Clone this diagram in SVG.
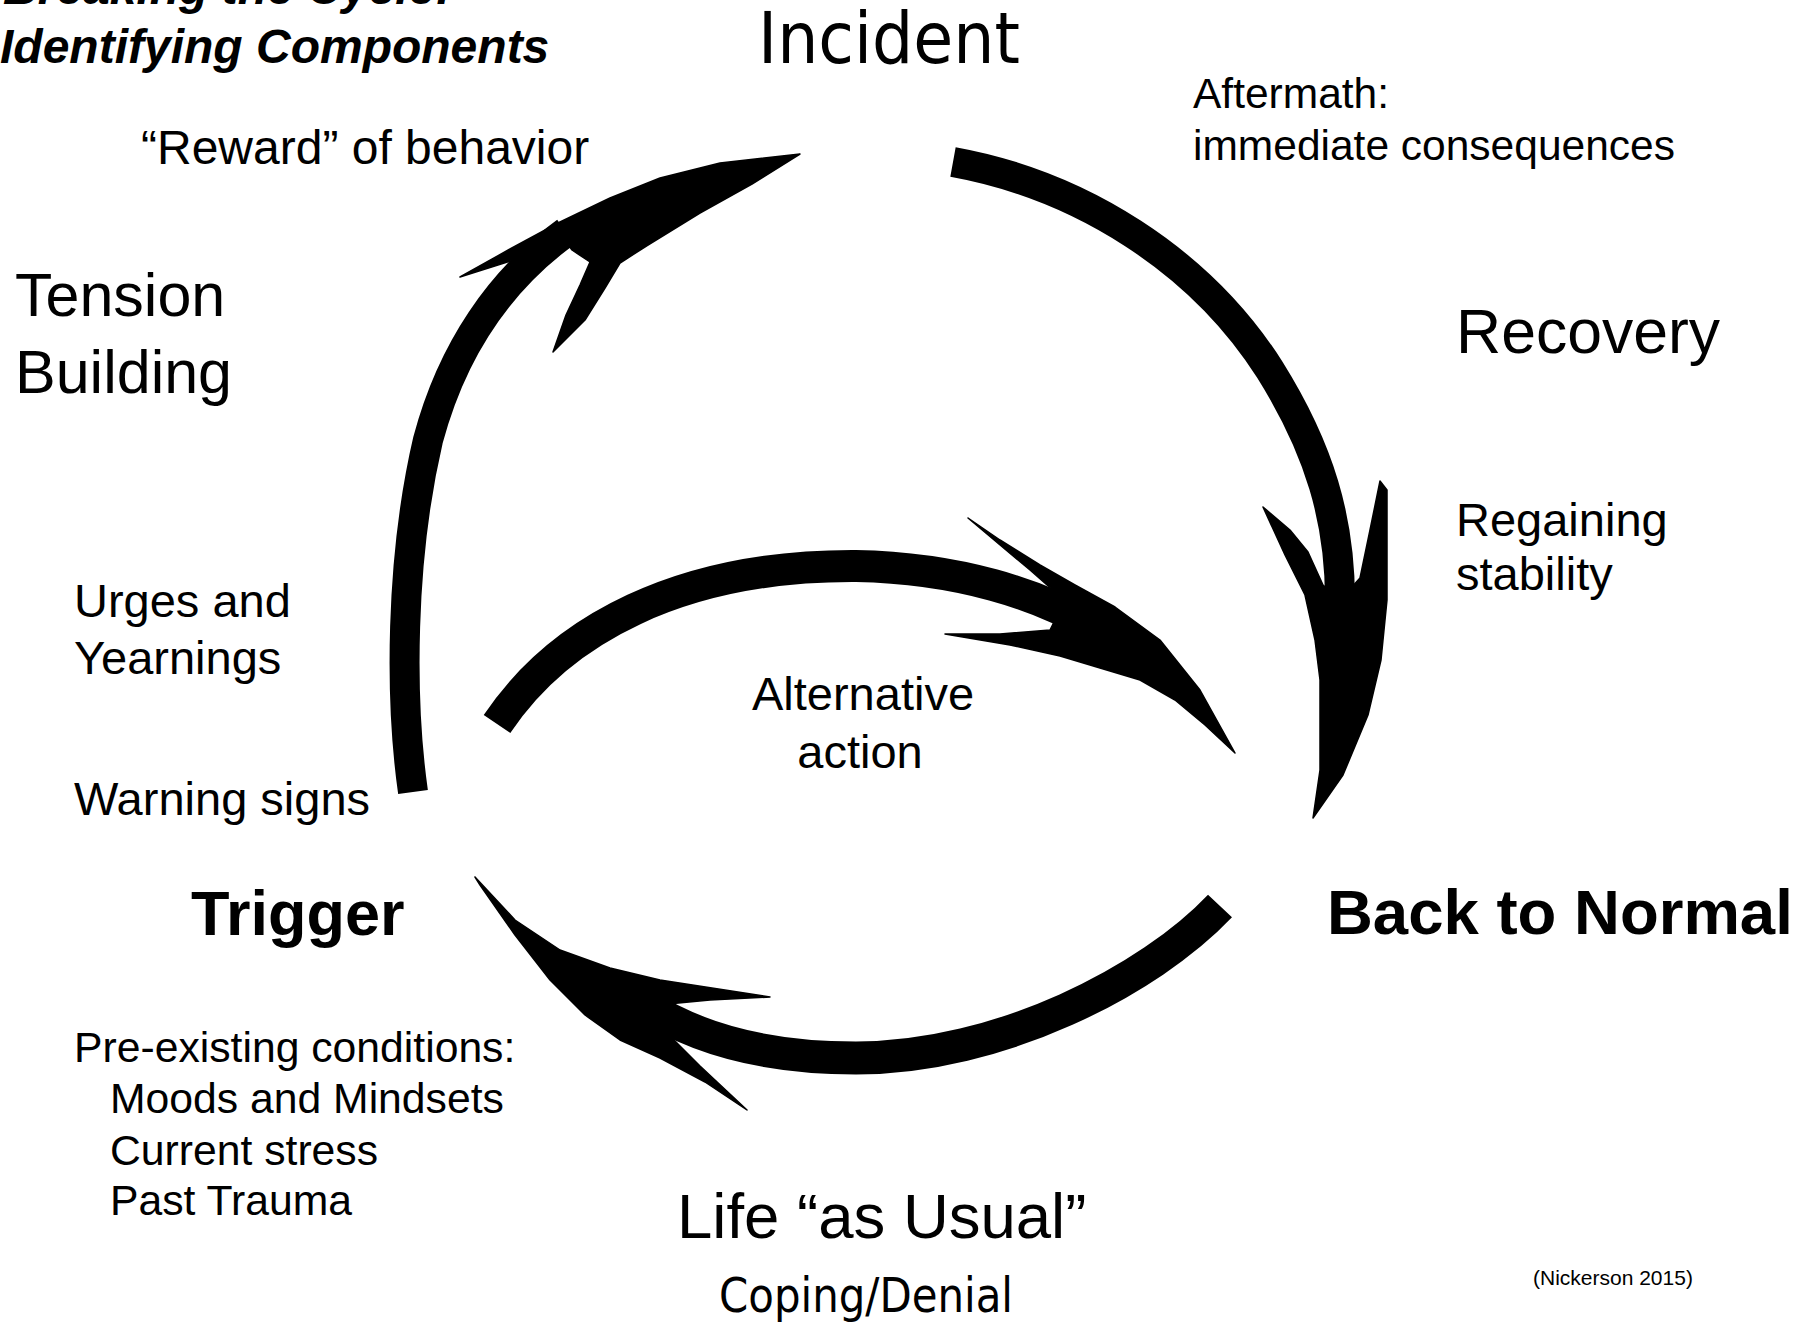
<svg xmlns="http://www.w3.org/2000/svg" width="1813" height="1326" viewBox="0 0 1813 1326">
<style>
.t{font-family:"Liberation Sans",Arial,sans-serif;fill:#000}
.b{font-weight:bold}
.bi{font-weight:bold;font-style:italic}
.th{font-family:"DejaVu Sans","Liberation Sans",sans-serif;fill:#000}
.shaft{fill:none;stroke:#000;stroke-linecap:butt;stroke-linejoin:round}
.head{fill:#000;stroke:#000;stroke-width:1.5;stroke-linejoin:round}
</style>
<rect width="1813" height="1326" fill="#fff"/>

<g id="title">
<text class="t bi" x="3" y="4" font-size="48">Breaking the Cycle:</text>
<text class="t bi" x="0" y="63" font-size="48">Identifying Components</text>
</g>

<g id="connectors">
<g id="arrow-tension-incident">
<path class="shaft" stroke-width="30" d="M413,792 C400,700 400,560 428,440 C452,350 500,280 566,232"/>
<polygon class="head" points="460,277 510,249 560,222 610,198 660,178 720,163 800,154 752,184 700,213 648,245 620,263 605,288 585,320 553,352 566,315 580,285 590,262 572,250 565,240 520,258"/>
</g>
<g id="arrow-incident-normal">
<path class="shaft" stroke-width="30" d="M953,162 C1080,185 1200,260 1270,370 C1320,450 1340,520 1340,600"/>
<polygon class="head" points="1263,507 1290,530 1308,552 1323,585 1340,600 1360,578 1370,530 1380,481 1387,490 1387,600 1381,660 1368,715 1343,775 1313,818 1320,770 1320,680 1315,640 1305,595 1285,555"/>
</g>
<g id="arrow-alternative">
<path class="shaft" stroke-width="32" d="M497,724 C560,630 680,565 856,566 C960,568 1040,595 1090,625"/>
<polygon class="head" points="968,518 1000,540 1040,565 1075,585 1115,607 1160,640 1200,690 1235,753 1205,725 1175,700 1140,680 1100,668 1060,656 1010,645 945,634 1000,634 1050,630 1060,610 1055,592 1030,570"/>
</g>
<g id="arrow-normal-trigger">
<path class="shaft" stroke-width="33" d="M1220,906 C1150,980 1000,1058 856,1058 C760,1058 690,1036 640,1002"/>
<polygon class="head" points="475,877 515,920 560,950 610,968 660,980 770,997 710,1000 668,1004 650,1018 672,1038 700,1066 747,1110 705,1082 660,1058 620,1040 585,1015 550,980 515,935 480,885"/>
</g>
</g>

<g id="node-incident">
<text class="th" x="758" y="63" font-size="71" textLength="262" lengthAdjust="spacingAndGlyphs">Incident</text>
</g>
<g id="node-reward">
<text class="t" x="141" y="164" font-size="48">“Reward” of behavior</text>
</g>
<g id="node-aftermath">
<text class="t" x="1193" y="108" font-size="42.5">Aftermath:</text>
<text class="t" x="1193" y="160" font-size="42.5">immediate consequences</text>
</g>
<g id="node-tension">
<text class="t" x="15" y="316" font-size="61">Tension</text>
<text class="t" x="15" y="393" font-size="61">Building</text>
</g>
<g id="node-recovery">
<text class="t" x="1456" y="353" font-size="62.5">Recovery</text>
</g>
<g id="node-regaining">
<text class="t" x="1456" y="536" font-size="47">Regaining</text>
<text class="t" x="1456" y="590" font-size="47">stability</text>
</g>
<g id="node-urges">
<text class="t" x="74" y="617" font-size="47">Urges and</text>
<text class="t" x="74" y="674" font-size="47">Yearnings</text>
</g>
<g id="node-alternative">
<text class="t" x="863" y="710" font-size="47" text-anchor="middle">Alternative</text>
<text class="t" x="860" y="768" font-size="47" text-anchor="middle">action</text>
</g>
<g id="node-warning">
<text class="t" x="74" y="815" font-size="47">Warning signs</text>
</g>
<g id="node-trigger">
<text class="t b" x="191" y="935" font-size="63">Trigger</text>
</g>
<g id="node-normal">
<text class="t b" x="1327" y="934" font-size="63.5">Back to Normal</text>
</g>
<g id="node-preexisting">
<text class="t" x="74" y="1062" font-size="42.7">Pre-existing conditions:</text>
<text class="t" x="110" y="1113" font-size="42.7">Moods and Mindsets</text>
<text class="t" x="110" y="1165" font-size="42.7">Current stress</text>
<text class="t" x="110" y="1215" font-size="42.7">Past Trauma</text>
</g>
<g id="node-life">
<text class="t" x="677" y="1238" font-size="63.5">Life “as Usual”</text>
<text class="th" x="719" y="1312" font-size="48" textLength="294" lengthAdjust="spacingAndGlyphs">Coping/Denial</text>
</g>
<g id="note">
<text class="t" x="1533" y="1285" font-size="21">(Nickerson 2015)</text>
</g>
</svg>
